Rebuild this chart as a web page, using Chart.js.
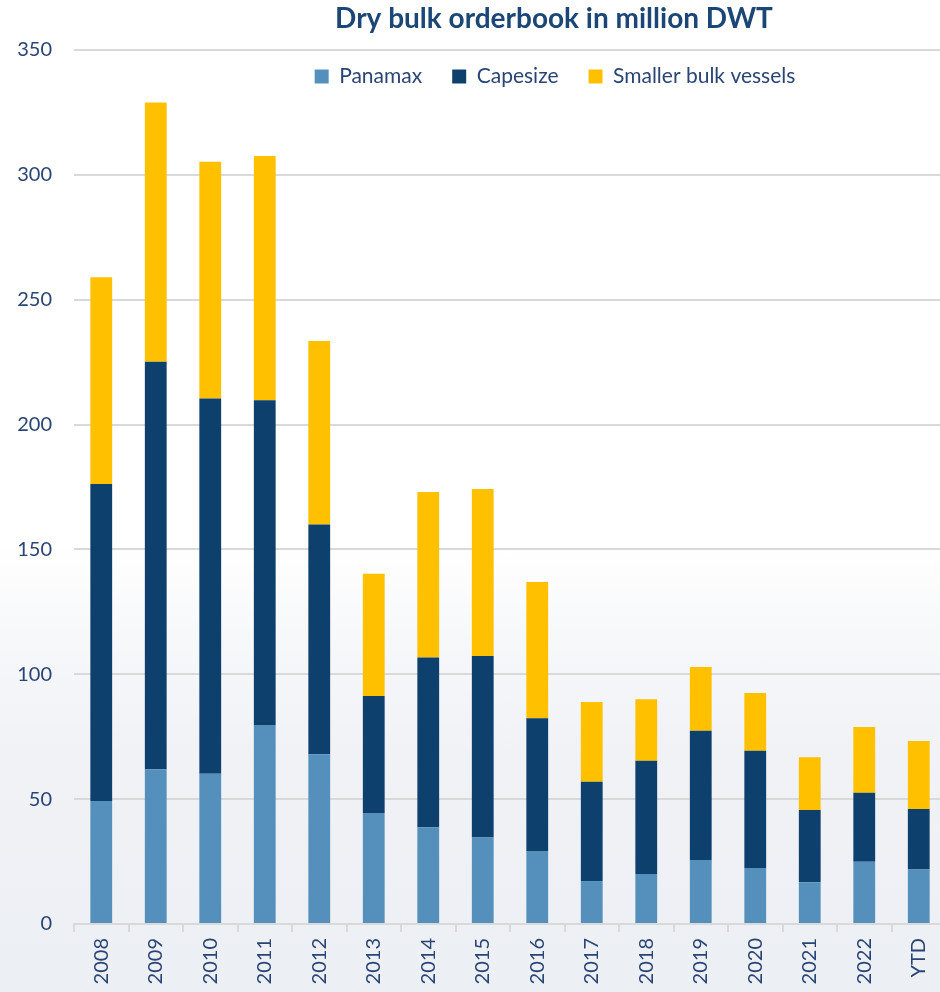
<!DOCTYPE html>
<html>
<head>
<meta charset="utf-8">
<script src="https://cdn.jsdelivr.net/npm/chart.js@4/dist/chart.umd.min.js"></script>
<style>
  html, body { margin: 0; padding: 0; overflow: hidden; }
  body {
    width: 940px; height: 992px;
    background: linear-gradient(to bottom, #ffffff 0%, #ffffff 55%, #f7f8fa 64%, #f0f2f6 76%, #eceff3 100%);
  }
  #wrap { position: relative; width: 950px; height: 992px; }
</style>
</head>
<body>
<div id="wrap"><canvas id="orderbook"></canvas></div>
<script>
// values, million DWT
var years = ['2008', '2009', '2010', '2011', '2012', '2013', '2014', '2015', '2016', '2017', '2018', '2019', '2020', '2021', '2022', 'YTD'];
var panamax  = [49.3, 62.0, 60.2, 79.7, 68.0, 44.5, 38.7, 34.6, 29.2, 17.2, 20.0, 25.6, 22.4, 16.7, 24.9, 21.8];
var capesize = [126.9, 163.2, 150.2, 130.0, 92.0, 46.8, 68.0, 72.7, 53.2, 39.8, 45.4, 51.8, 47.0, 29.0, 27.7, 24.3];
var smaller  = [82.8, 103.8, 94.8, 97.9, 73.5, 49.0, 66.3, 66.9, 54.6, 31.9, 24.6, 25.5, 23.1, 21.1, 26.3, 27.2];
var yTicks = [0, 50, 100, 150, 200, 250, 300, 350];

var textColor = '#2a4575';
var gridColor = '#d9d9d9';

// legend lives inside the plot area but in one row, and title/legend are off-centre
var shiftBoxes = {
    id: 'shiftBoxes',
    beforeLayout: function(chart) {
        if (chart.legend) {
            chart.legend.isHorizontal = function() { return true; };
        }
    },
    afterLayout: function(chart) {
        var t = chart.titleBlock;
        if (t) {
            var dx = 554 - (t.left + t.right) / 2;
            t.left += dx; t.right += dx;
        }
        var l = chart.legend;
        if (l) {
            var dxl = 555 - (l.left + l.right) / 2;
            l.left += dxl; l.right += dxl;
            var dy = 66 - l.top - l.options.labels.padding;
            l.top += dy; l.bottom += dy;
        }
    }
};

var ctx = document.getElementById('orderbook').getContext('2d');
var chart = new Chart(ctx, {
    type: 'bar',
    data: {
        labels: years,
        datasets: [
            { label: 'Panamax', data: panamax, backgroundColor: '#558fbb' },
            { label: 'Capesize', data: capesize, backgroundColor: '#0e406e' },
            { label: 'Smaller bulk vessels', data: smaller, backgroundColor: '#ffc000' }
        ]
    },
    options: {
        responsive: true,
        maintainAspectRatio: false,
        animation: false,
        layout: { padding: { left: 0, right: 4, top: 0, bottom: 0 } },
        datasets: { bar: { barPercentage: 0.4, categoryPercentage: 1.0, borderWidth: 0 } },
        plugins: {
            title: {
                display: true,
                text: 'Dry bulk orderbook in million DWT',
                color: '#1b4676',
                font: { family: 'Lato', size: 28, weight: 'bold', lineHeight: 1.2 },
                padding: { top: 2, bottom: 14.4 }
            },
            legend: {
                position: 'chartArea',
                align: 'center',
                labels: {
                    color: textColor,
                    font: { family: 'Lato', size: 21 },
                    boxWidth: 14,
                    boxHeight: 14,
                    padding: 30
                }
            },
            tooltip: { enabled: false }
        },
        scales: {
            x: {
                stacked: true,
                grid: {
                    display: true,
                    offset: true,
                    drawOnChartArea: false,
                    drawTicks: true,
                    tickLength: 8,
                    color: gridColor,
                    lineWidth: 2
                },
                border: { display: true, color: gridColor, width: 2 },
                ticks: {
                    color: textColor,
                    font: { family: 'Lato', size: 20 },
                    minRotation: 90,
                    maxRotation: 90,
                    padding: 6,
                    autoSkip: false
                },
                afterFit: function(scale) { scale.height = 68; }
            },
            y: {
                stacked: true,
                min: 0,
                max: 350,
                afterBuildTicks: function(scale) {
                    scale.ticks = yTicks.map(function(v) { return { value: v }; });
                },
                grid: {
                    color: gridColor,
                    lineWidth: 2,
                    drawTicks: false
                },
                border: { display: false },
                ticks: {
                    color: textColor,
                    font: { family: 'Lato', size: 20 },
                    padding: 22
                },
                afterFit: function(scale) { scale.width = 74; }
            }
        }
    },
    plugins: [shiftBoxes]
});
</script>
</body>
</html>
